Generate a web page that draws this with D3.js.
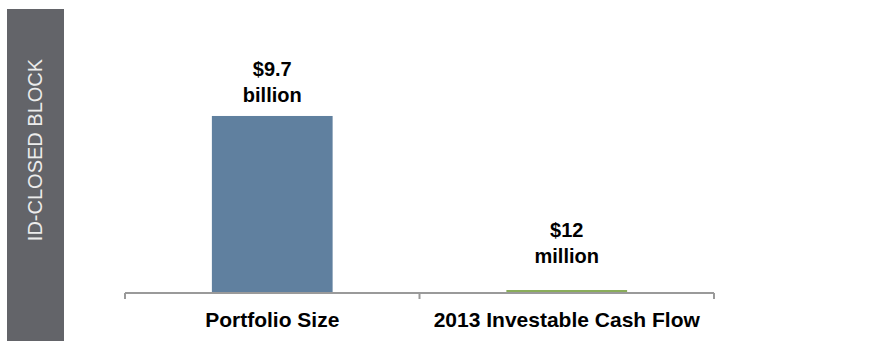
<!DOCTYPE html>
<html>
<head>
<meta charset="utf-8">
<script src="https://cdn.jsdelivr.net/npm/d3@7"></script>
<style>
  body { margin: 0; background: #fff; }
  text { font-family: Arial, "Liberation Sans", sans-serif; }
</style>
</head>
<body>
<div id="chart"></div>
<script>
// data (values in billions of dollars)
var categories = ["Portfolio Size", "2013 Investable Cash Flow"];
var values = [9.7, 0.012];
var valueLabels = [["$9.7", "billion"], ["$12", "million"]];
var barColors = ["#60809f", "#8aad5b"];
var sideLabel = "ID-CLOSED BLOCK";

var width = 889, height = 341;

var svg = d3.select("#chart").append("svg")
    .attr("width", width)
    .attr("height", height);

// side block
svg.append("rect")
    .attr("x", 7).attr("y", 9)
    .attr("width", 57).attr("height", height - 9)
    .attr("fill", "#636469");

svg.append("text")
    .attr("transform", "translate(42,150) rotate(-90)")
    .attr("text-anchor", "middle")
    .attr("fill", "#ececec")
    .style("font-size", "20px")
    .text(sideLabel);

// scales
var x = d3.scaleBand()
    .domain(categories)
    .range([125, 714])
    .paddingInner(0.59)
    .paddingOuter(0.295);

var y = d3.scaleLinear()
    .domain([0, 12])
    .range([293, 74]);

// bars
svg.selectAll(".bar")
    .data(values)
    .enter().append("rect")
    .attr("class", "bar")
    .attr("x", (d, i) => x(categories[i]))
    .attr("width", x.bandwidth())
    .attr("y", d => Math.min(y(d), y(0) - 3))
    .attr("height", d => Math.max(y(0) - y(d), 3))
    .attr("fill", (d, i) => barColors[i]);

// value labels
var lbl = svg.selectAll(".vlabel")
    .data(values)
    .enter().append("text")
    .attr("class", "vlabel")
    .attr("text-anchor", "middle")
    .attr("fill", "#000")
    .style("font-size", "20px")
    .style("font-weight", "bold")
    .attr("x", (d, i) => x(categories[i]) + x.bandwidth() / 2)
    .attr("y", d => Math.min(y(d), y(0) - 16) - 14);

lbl.append("tspan")
    .attr("x", (d, i) => x(categories[i]) + x.bandwidth() / 2)
    .attr("dy", -26)
    .text((d, i) => valueLabels[i][0]);
lbl.append("tspan")
    .attr("x", (d, i) => x(categories[i]) + x.bandwidth() / 2)
    .attr("dy", 26)
    .text((d, i) => valueLabels[i][1]);

// axis: line with ticks at band boundaries
var step = x.step();
var edges = [x.range()[0]].concat(categories.map(c => x(c) - x.paddingOuter() * step + step));
svg.append("line")
    .attr("x1", x.range()[0]).attr("x2", x.range()[1])
    .attr("y1", y(0)).attr("y2", y(0))
    .attr("stroke", "#9a9a9a")
    .attr("stroke-width", 2);

svg.selectAll(".tick")
    .data(edges)
    .enter().append("line")
    .attr("class", "tick")
    .attr("x1", d => d).attr("x2", d => d)
    .attr("y1", y(0)).attr("y2", y(0) + 6)
    .attr("stroke", "#9a9a9a")
    .attr("stroke-width", 2);

// category labels
svg.selectAll(".clabel")
    .data(categories)
    .enter().append("text")
    .attr("class", "clabel")
    .attr("text-anchor", "middle")
    .attr("x", d => x(d) + x.bandwidth() / 2)
    .attr("y", 327)
    .style("font-size", "21px")
    .style("font-weight", "bold")
    .attr("fill", "#000")
    .text(d => d);
</script>
</body>
</html>
